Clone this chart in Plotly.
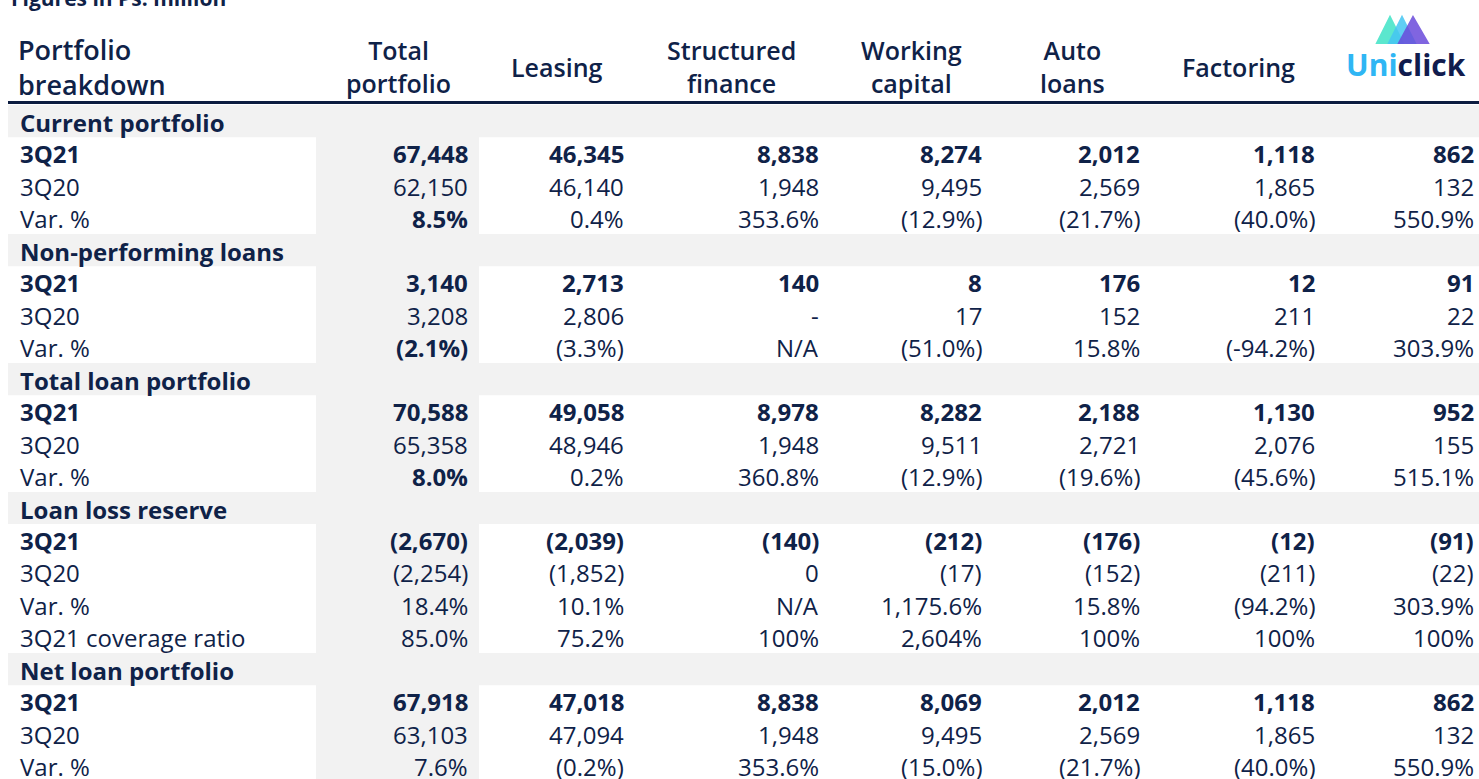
import plotly.graph_objects as go

# ---------------- data ----------------
title_text = "Figures in Ps. million"
corner_header = "Portfolio<br>breakdown"
col_headers = ["Total<br>portfolio", "Leasing", "Structured<br>finance",
               "Working<br>capital", "Auto<br>loans", "Factoring"]
logo_uni = "Uni"
logo_click = "click"

section_names = ["Current portfolio", "Non-performing loans", "Total loan portfolio",
                 "Loan loss reserve", "Net loan portfolio"]

cur_labels = ["3Q21", "3Q20", "Var. %"]
cur_3q21 = ["67,448", "46,345", "8,838", "8,274", "2,012", "1,118", "862"]
cur_3q20 = ["62,150", "46,140", "1,948", "9,495", "2,569", "1,865", "132"]
cur_var = ["8.5%", "0.4%", "353.6%", "(12.9%)", "(21.7%)", "(40.0%)", "550.9%"]

npl_labels = ["3Q21", "3Q20", "Var. %"]
npl_3q21 = ["3,140", "2,713", "140", "8", "176", "12", "91"]
npl_3q20 = ["3,208", "2,806", "-", "17", "152", "211", "22"]
npl_var = ["(2.1%)", "(3.3%)", "N/A", "(51.0%)", "15.8%", "(-94.2%)", "303.9%"]

tlp_labels = ["3Q21", "3Q20", "Var. %"]
tlp_3q21 = ["70,588", "49,058", "8,978", "8,282", "2,188", "1,130", "952"]
tlp_3q20 = ["65,358", "48,946", "1,948", "9,511", "2,721", "2,076", "155"]
tlp_var = ["8.0%", "0.2%", "360.8%", "(12.9%)", "(19.6%)", "(45.6%)", "515.1%"]

llr_labels = ["3Q21", "3Q20", "Var. %", "3Q21 coverage ratio"]
llr_3q21 = ["(2,670)", "(2,039)", "(140)", "(212)", "(176)", "(12)", "(91)"]
llr_3q20 = ["(2,254)", "(1,852)", "0", "(17)", "(152)", "(211)", "(22)"]
llr_var = ["18.4%", "10.1%", "N/A", "1,175.6%", "15.8%", "(94.2%)", "303.9%"]
llr_cov = ["85.0%", "75.2%", "100%", "2,604%", "100%", "100%", "100%"]

nlp_labels = ["3Q21", "3Q20", "Var. %"]
nlp_3q21 = ["67,918", "47,018", "8,838", "8,069", "2,012", "1,118", "862"]
nlp_3q20 = ["63,103", "47,094", "1,948", "9,495", "2,569", "1,865", "132"]
nlp_var = ["7.6%", "(0.2%)", "353.6%", "(15.0%)", "(21.7%)", "(40.0%)", "550.9%"]

sections = [
    (cur_labels, [cur_3q21, cur_3q20, cur_var], ["all", "none", "total"]),
    (npl_labels, [npl_3q21, npl_3q20, npl_var], ["all", "none", "total"]),
    (tlp_labels, [tlp_3q21, tlp_3q20, tlp_var], ["all", "none", "total"]),
    (llr_labels, [llr_3q21, llr_3q20, llr_var, llr_cov], ["all", "none", "none", "none"]),
    (nlp_labels, [nlp_3q21, nlp_3q20, nlp_var], ["all", "none", "none"]),
]

# ---------------- layout constants ----------------
W, H = 1479, 779
NAVY = "#0f2248"
GRAY = "#f2f2f2"
FONT = "Open Sans"
FS = 24
row_top0 = 105.0
row_h = 32.24
label_x = 18
value_right = [470, 626, 821, 984, 1142, 1317, 1476]
header_centers = [398, 557, 731, 911, 1072, 1238]
total_col = (316, 479)

fig = go.Figure()
shapes = []
ann = []

def txt(x, y, s, size=FS, bold=False, xanchor="left", color=NAVY, weight=None, align=None):
    w = weight if weight is not None else ("bold" if bold else "normal")
    ann.append(dict(x=x, y=(H - y) / H, xref="x", yref="paper", text=s, showarrow=False,
                    xanchor=xanchor, yanchor="middle", align=align or xanchor,
                    font=dict(family=FONT, size=size, color=color, weight=w)))

# title (partially cut at top)
txt(9, -2, title_text, size=21, bold=True)

# header
txt(label_x - 2, 67, corner_header, size=27, weight=600, align="left")
for hc, h in zip(header_centers, col_headers):
    txt(hc, 67, h, size=25, xanchor="center", weight=600)

# logo
tri = [(1377, 1403, 1390, "#3fe3c6"), (1389, 1415, 1402, "#45c6f3"), (1399, 1428, 1413, "#6a4bdb")]
for x0, x1, xa, c in tri:
    shapes.append(dict(type="path", xref="x", yref="y",
                       path=f"M {x0},43 L {xa},17 L {x1},43 Z",
                       fillcolor=c, opacity=0.85, line=dict(width=2, color=c)))
ann.append(dict(x=1406, y=(H - 64) / H, xref="x", yref="paper", showarrow=False,
                xanchor="center", yanchor="middle",
                text=f"<span style='color:#2fb6f4'>{logo_uni}</span><span style='color:#111c4e'>{logo_click}</span>",
                font=dict(family=FONT, size=30, weight="bold")))

# total portfolio column gray band
shapes.append(dict(type="rect", xref="x", yref="y", x0=total_col[0], x1=total_col[1],
                   y0=row_top0, y1=H, fillcolor=GRAY, line=dict(width=0), layer="below"))

r = 0
for name, (labels, rows, bolds) in zip(section_names, sections):
    top = row_top0 + r * row_h
    shapes.append(dict(type="rect", xref="x", yref="y", x0=8, x1=W, y0=top, y1=top + row_h,
                       fillcolor=GRAY, line=dict(width=0), layer="below"))
    txt(label_x, top + row_h / 2 + 1, name, bold=True)
    r += 1
    for lab, vals, b in zip(labels, rows, bolds):
        cy = row_top0 + r * row_h + row_h / 2 + 0.5
        txt(label_x, cy, lab, bold=(b == "all"))
        for j, v in enumerate(vals):
            bold = (b == "all") or (b == "total" and j == 0)
            txt(value_right[j], cy, v, bold=bold, xanchor="right")
        r += 1

# header rule
shapes.append(dict(type="line", xref="x", yref="y", x0=8, x1=W, y0=102.5, y1=102.5,
                   line=dict(color="#0c1c40", width=3)))

fig.update_layout(
    width=W, height=H, margin=dict(l=0, r=0, t=0, b=0),
    paper_bgcolor="white", plot_bgcolor="white",
    xaxis=dict(range=[0, W], visible=False, fixedrange=True),
    yaxis=dict(range=[H, 0], visible=False, fixedrange=True),
    shapes=shapes, annotations=ann, showlegend=False,
)
fig.write_html("out.html", config={"displayModeBar": False},
               post_script="document.body.style.margin='0';document.body.style.overflow='hidden';")
